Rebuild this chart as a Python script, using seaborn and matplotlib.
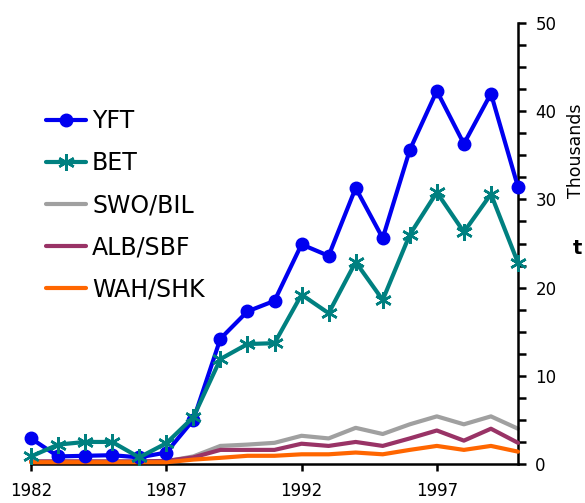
import matplotlib
matplotlib.use("Agg")
import matplotlib.pyplot as plt
import seaborn as sns
import pandas as pd

years = list(range(1982, 2001))
yft = [2.9, 0.86, 0.93, 1.0, 0.75, 1.3, 5.0, 14.2, 17.3, 18.5, 24.9, 23.6, 31.3, 25.6, 35.6, 42.3, 36.3, 42.0, 31.4]
bet = [0.86, 2.2, 2.5, 2.5, 0.75, 2.35, 5.3, 11.9, 13.6, 13.7, 19.2, 17.1, 22.9, 18.6, 26.0, 30.8, 26.3, 30.6, 22.8]
swo = [0.25, 0.25, 0.25, 0.25, 0.25, 0.3, 0.86, 2.05, 2.2, 2.4, 3.2, 2.9, 4.1, 3.4, 4.5, 5.4, 4.5, 5.4, 4.0]
alb = [0.3, 0.3, 0.3, 0.3, 0.3, 0.35, 0.75, 1.6, 1.6, 1.6, 2.3, 2.05, 2.5, 2.05, 2.9, 3.8, 2.65, 4.0, 2.4]
wah = [0.2, 0.2, 0.2, 0.2, 0.2, 0.2, 0.5, 0.7, 0.93, 0.93, 1.1, 1.1, 1.3, 1.1, 1.6, 2.05, 1.6, 2.05, 1.4]

series_names = ["YFT", "BET", "SWO/BIL", "ALB/SBF", "WAH/SHK"]
series_vals = [yft, bet, swo, alb, wah]
colors = ["#0000F0", "#008080", "#A0A0A0", "#993366", "#FF6600"]
markers = ["o", (6, 2, 0), None, None, None]
zorders = [4, 5, 2, 3, 3.5]

sns.set_style("white")
plt.rcParams["font.family"] = ["DejaVu Sans"]
plt.rcParams["text.color"] = "black"
plt.rcParams["xtick.color"] = "black"
plt.rcParams["ytick.color"] = "black"

fig = plt.figure(figsize=(5.85, 5.03), dpi=100)
ax = fig.add_axes([31 / 585, 39 / 503, (518 - 31) / 585, (464 - 23) / 503])

for name, vals, c, m, z in zip(series_names, series_vals, colors, markers, zorders):
    df = pd.DataFrame({"year": years, "value": vals})
    kw = {}
    if m is not None:
        kw = dict(marker=m, markersize=9 if m == "o" else 12,
                  markeredgewidth=1.8 if m != "o" else 1, markeredgecolor=c,
                  markerfacecolor=c)
    sns.lineplot(data=df, x="year", y="value", ax=ax, color=c, linewidth=3,
                 label=name, zorder=z, clip_on=False, **kw)

ax.set_xlim(1982, 2000)
ax.set_ylim(0, 50)
ax.set_xticks([1982, 1987, 1992, 1997])
ax.set_yticks([0, 10, 20, 30, 40, 50])
ax.set_yticks([x * 2.5 for x in range(21)], minor=True)
ax.yaxis.tick_right()
ax.spines["left"].set_visible(False)
ax.spines["top"].set_visible(False)
for s in ["right", "bottom"]:
    ax.spines[s].set_color("black")
    ax.spines[s].set_linewidth(1.8)
ax.tick_params(axis="x", which="major", direction="out", length=5, width=1.8,
               color="black", labelcolor="black", labelsize=12, pad=8, bottom=True)
ax.tick_params(axis="y", which="both", direction="out", length=5.5, width=1.8,
               color="black", labelcolor="black", labelsize=12, pad=7, right=True, left=False)
ax.set_xlabel("")
ax.set_ylabel("")

handles, labels = ax.get_legend_handles_labels()
leg = ax.legend(handles, labels, loc="upper left",
                bbox_to_anchor=(46 / 585, 1 - 109 / 503),
                bbox_transform=fig.transFigure, frameon=False, fontsize=17,
                handlelength=1.7, handletextpad=0.25, labelspacing=0.77,
                borderpad=0, borderaxespad=0)
for t in leg.get_texts():
    t.set_color("black")

fig.text(576 / 585, 1 - 151 / 503, "Thousands", rotation=90, ha="center",
         va="center", fontsize=12.5, color="black")
fig.text(577 / 585, 1 - 248 / 503, "t", ha="center", va="center",
         fontsize=14, fontweight="bold", color="black")

fig.savefig("out.png", dpi=100)
